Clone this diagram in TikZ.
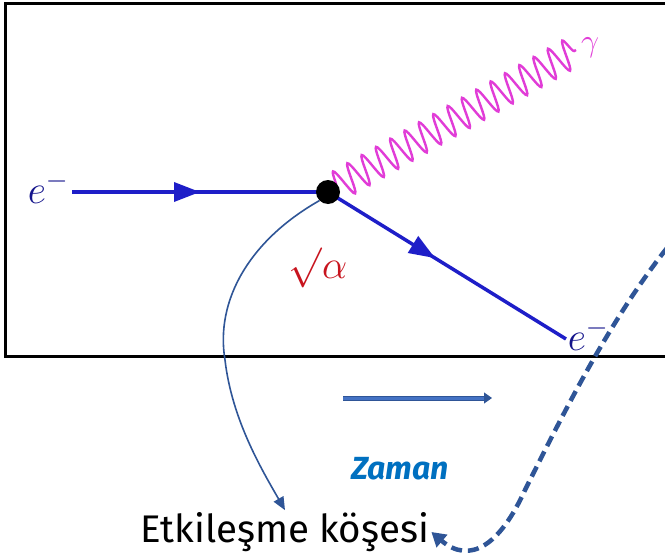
\RequirePackage{fix-cm}
\documentclass[tikz,border=0pt]{standalone}
\usepackage{fontspec}
\usepackage{tikz}
\usetikzlibrary{arrows.meta,positioning,calc,decorations.pathmorphing,decorations.markings}
\newfontfamily\notefont{Fira Sans}
\definecolor{fermblue}{RGB}{30,30,200}
\definecolor{photmag}{RGB}{225,60,215}
\definecolor{alphared}{RGB}{200,20,30}
\definecolor{curveblue}{RGB}{47,85,151}
\definecolor{timeblue}{RGB}{0,112,192}
\definecolor{arrowfill}{RGB}{68,114,196}
\tikzset{
  fermion/.style={fermblue, line width=3.5pt, postaction={decorate},
    decoration={markings, mark=at position #1 with
      {\arrow{Triangle[length=26pt,width=19pt]}}}},
  photon/.style={photmag, line width=2.4pt,
    decorate, decoration={snake, segment length=16.5pt, amplitude=15pt}},
  pointer/.style={curveblue, line width=1.6pt, -{Triangle[length=13pt,width=11pt]}},
  dashpointer/.style={curveblue, line width=4.5pt, dash pattern=on 11pt off 6pt,
    -{Triangle[length=14pt,width=16pt]}},
  plabel/.style={fermblue!70!black, font=\fontsize{40}{42}\selectfont, inner sep=0pt}
}
\begin{document}
\begin{tikzpicture}[x=1pt,y=-1pt]
        \useasboundingbox (0,0) rectangle (665,557);
        \fill[white] (0,0) rectangle (665,557);
        % frame of the diagram (right edge cut off)
        \draw[black, line width=3pt] (668,3) -- (5,3) -- (5,356) -- (668,356);
        % vertex and external lines
        \coordinate (ein) at (72,192);
        \coordinate (eout) at (566,339);
        \coordinate (gend) at (576,50);
        \draw[fermion=0.5] (ein) -- (328,192);
        \draw[fermion=0.45] (328,192) -- (eout);
        \draw[photon] (336,187) -- (gend);
        \node[circle, fill=black, inner sep=0pt, minimum size=24pt] (vtx) at (328,192) {};
        \node[plabel] (ein-lbl) at (48,188) {$e^{-}$};
        \node[plabel] (eout-lbl) at (588,335) {$e^{-}$};
        \node[photmag, font=\fontsize{32}{34}\selectfont, inner sep=0pt] (gam-lbl) at (590,48) {$\gamma$};
        \node[alphared, font=\fontsize{40}{42}\selectfont, inner sep=0pt] (alpha-lbl) at (318,268) {$\surd\alpha$};
        % time direction
        \coordinate (tstart) at (343,398);
        \coordinate (tend) at (492,398);
        \draw[curveblue, line width=1pt, double=arrowfill, double distance=3pt,
              -{Triangle[length=8pt,width=11pt]}] (tstart) -- (tend);
        \node[timeblue, font=\notefont\bfseries\itshape\fontsize{32}{34}\selectfont] (zaman) at (400,469) {Zaman};
        % vertex caption and pointers
        \node[font=\notefont\fontsize{38.5}{42}\selectfont, inner sep=2pt] (vlabel) at (285,532) {Etkileşme köşesi};
        \draw[pointer] (vtx.south west) .. controls (250,240) and (215,300) .. (225,360)
              .. controls (232,420) and (262,470) .. (vlabel.north);
        \coordinate (dstart) at (667,248);
        \draw[dashpointer] (dstart) .. controls (610,320) and (565,410) .. (525,490)
              .. controls (500,545) and (470,565) .. (vlabel.east);
\end{tikzpicture}
\end{document}
